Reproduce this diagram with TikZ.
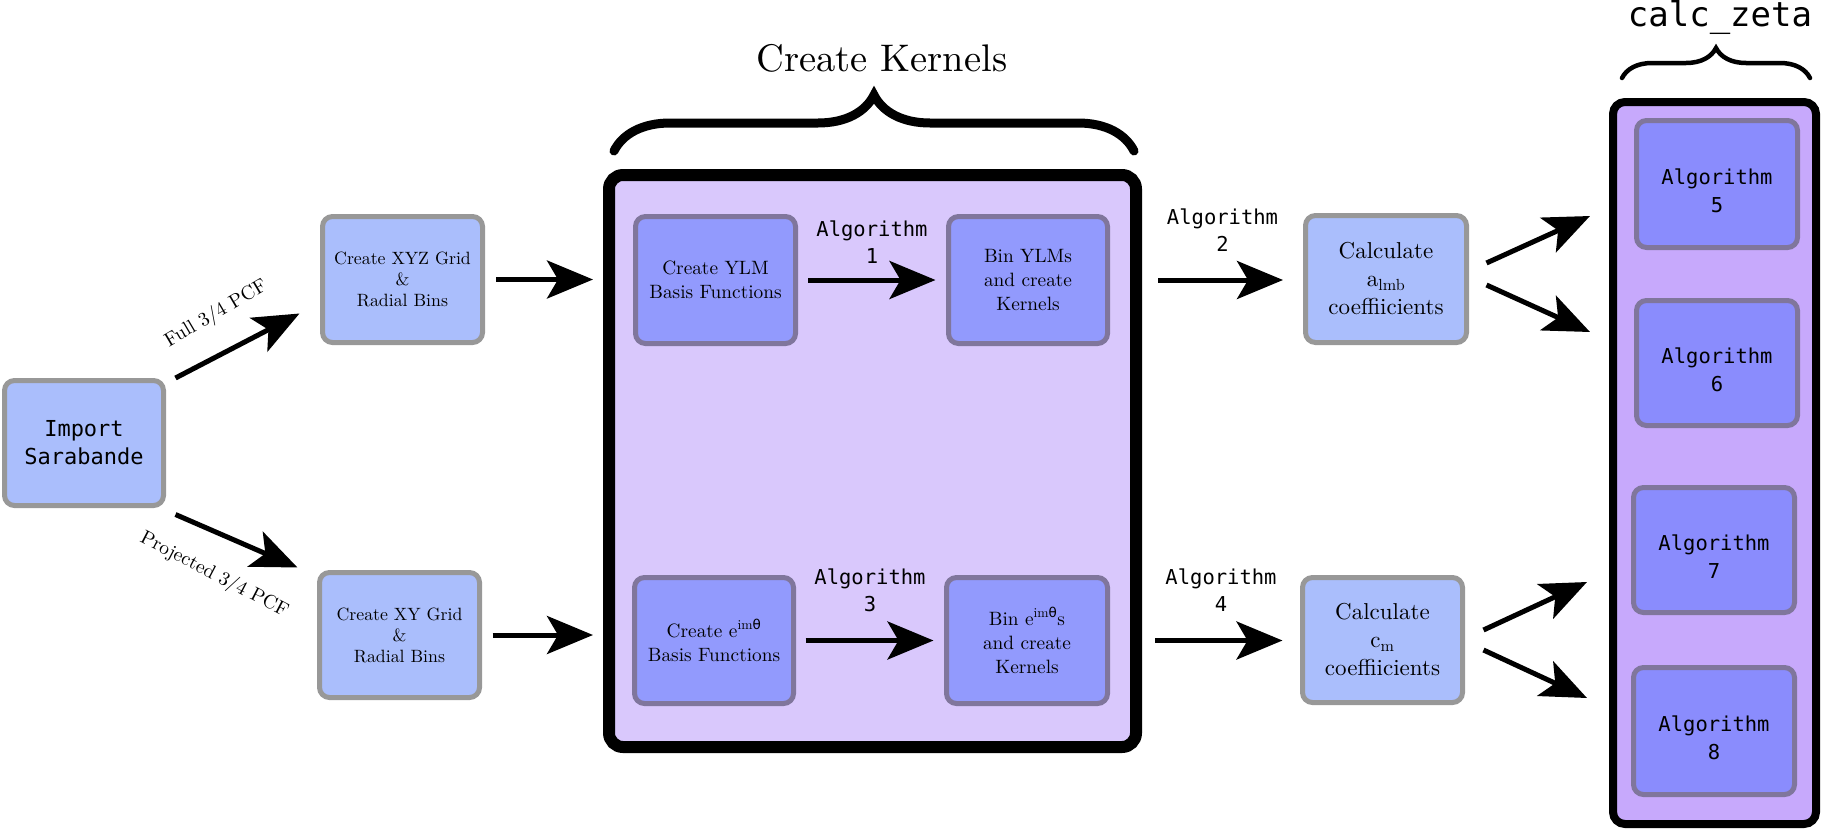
\documentclass[tikz,border=0pt]{standalone}
\usepackage{fontspec}
\setmainfont{lmroman10-regular}[Extension=.otf]
\newfontfamily\monof{DejaVu Sans Mono}
\newfontfamily\thetaf{DejaVu Sans}
\usetikzlibrary{arrows.meta,decorations.pathreplacing,calc}
\definecolor{lblue}{HTML}{AABEFC}
\definecolor{gborder}{HTML}{989898}
\definecolor{iblue}{HTML}{929AFD}
\definecolor{iborder}{HTML}{80769C}
\definecolor{kfill}{HTML}{D9C8FC}
\definecolor{zfill}{HTML}{C7A9FC}
\definecolor{ablue}{HTML}{8A8CFD}
\tikzset{
  lbox/.style={draw=gborder, line width=5pt, fill=lblue, rounded corners=10pt, align=center, inner sep=0pt},
  ibox/.style={draw=iborder, line width=5pt, fill=iblue, rounded corners=10pt, align=center, inner sep=0pt},
  abox/.style={draw=iborder, line width=5pt, fill=ablue, rounded corners=10pt, align=center, inner sep=0pt,
    minimum width=161pt, minimum height=127pt, font=\monof\fontsize{20.5}{28}\selectfont},
  arr/.style={line width=5pt, -{Stealth[length=46pt,width=38pt,inset=11pt]}},
  grid/.style={font=\fontsize{17.8}{21}\selectfont},
  mid/.style={font=\fontsize{19.3}{24}\selectfont},
  calcf/.style={font=\fontsize{23}{28}\selectfont},
  alglab/.style={inner sep=0pt, align=center, font=\monof\fontsize{20.5}{27}\selectfont},
  edgelab/.style={inner sep=0pt, font=\fontsize{19.5}{23}\selectfont},
  bigbox/.style={draw=black, align=center}
}
\newcommand{\algtop}{\rule{0pt}{29pt}}
\newcommand{\eim}{e\textsuperscript{im{\thetaf θ}}}
\begin{document}
\begin{tikzpicture}[x=1pt,y=-1pt]
\useasboundingbox (0,0) rectangle (1830,830);
% big containers
\node[bigbox, line width=12pt, fill=kfill, rounded corners=14pt, minimum width=527pt, minimum height=572pt] (kern) at (872.5,461) {};
\node[bigbox, line width=8pt, fill=zfill, rounded corners=12pt, minimum width=203pt, minimum height=722pt] (zeta) at (1714.5,463) {};
% titles and braces
\node[font=\fontsize{38.5}{46}\selectfont] (kt) at (882,58) {Create Kernels};
\coordinate (kb1) at (614,151);
\coordinate (kb2) at (1134,151);
\draw[line width=9pt, line cap=round, decorate, decoration={brace, amplitude=56pt}] (kb1) -- (kb2);
\node[font=\monof\fontsize{34}{40}\selectfont] (zt) at (1720,18) {calc\_zeta};
\coordinate (zb1) at (1622,78);
\coordinate (zb2) at (1810,78);
\draw[line width=4.5pt, line cap=round, decorate, decoration={brace, amplitude=30pt}] (zb1) -- (zb2);
% left boxes
\node[lbox, minimum width=159pt, minimum height=125pt, font=\monof\fontsize{22}{28}\selectfont] (imp) at (84,443) {Import\\Sarabande};
\node[lbox, grid, minimum width=160pt, minimum height=126pt] (xyz) at (402.5,279.5) {Create XYZ Grid\\\&\\Radial Bins};
\node[lbox, grid, minimum width=160pt, minimum height=125pt] (xy) at (399.5,635) {Create XY Grid\\\&\\Radial Bins};
% inner kernel boxes
\node[ibox, mid, minimum width=160pt, minimum height=127pt] (ylm) at (715.5,280) {Create YLM\\Basis Functions};
\node[ibox, mid, minimum width=159pt, minimum height=127pt] (binY) at (1028,280) {Bin YLMs\\and create\\Kernels};
\node[ibox, mid, minimum width=159pt, minimum height=126pt] (eim) at (714,640.5) {Create \eim\\Basis Functions};
\node[ibox, mid, minimum width=161pt, minimum height=126pt] (binE) at (1027,640.5) {Bin \eim s\\and create\\Kernels};
% calculate boxes
\node[lbox, calcf, minimum width=161pt, minimum height=127pt] (calcA) at (1386,279) {Calculate\\a\textsubscript{lmb}\\coeffiicients};
\node[lbox, calcf, minimum width=160pt, minimum height=125pt] (calcC) at (1382.5,640) {Calculate\\c\textsubscript{m}\\coeffiicients};
% algorithm boxes
\node[abox] (a5) at (1717,184) {\algtop Algorithm\\5};
\node[abox, minimum height=125pt] (a6) at (1717,363) {\algtop Algorithm\\6};
\node[abox, minimum height=125pt] (a7) at (1714,550) {\algtop Algorithm\\7};
\node[abox] (a8) at (1714,731) {\algtop Algorithm\\8};
% connectors
\draw[arr] ([xshift=9.5pt]imp.north east) -- ([shift={(-20.5,-31.5)}]xyz.south west)
  node[edgelab, pos=0.475, sloped, above=26pt, rotate=3] {Full 3/4 PCF};
\draw[arr] ([shift={(9.5,6.5)}]imp.south east) -- ([shift={(-19.5,-2.5)}]xy.north west)
  node[edgelab, pos=0.455, sloped, below=28pt, rotate=-4] {Projected 3/4 PCF};
\draw[arr, shorten <=11pt, shorten >=10pt] (xyz.east) -- (kern.west |- xyz.east);
\draw[arr, shorten <=10.5pt, shorten >=10pt] (xy.east) -- (kern.west |- xy.east);
\draw[arr, shorten <=10pt, shorten >=10.5pt] (ylm.east) -- (binY.west)
  node[alglab, midway, above=14pt] {Algorithm\\1};
\draw[arr, shorten <=9.5pt, shorten >=10.5pt] (eim.east) -- (binE.west)
  node[alglab, midway, above=26pt] {Algorithm\\3};
\draw[arr, shorten <=16pt, shorten >=20pt] (kern.east |- binY.east) -- (calcA.west |- binY.east)
  node[alglab, midway, above=26pt] {Algorithm\\2};
\draw[arr, shorten <=13pt, shorten >=17.5pt] (kern.east |- binE.east) -- (calcC.west |- binE.east)
  node[alglab, midway, above=27pt] {Algorithm\\4};
\coordinate (t5) at (1590,216);
\coordinate (t6) at (1590,332);
\coordinate (t7) at (1587,582);
\coordinate (t8) at (1587,698);
\draw[arr] ([shift={(17.5,-16)}]calcA.east) -- (t5);
\draw[arr] ([shift={(17.5,6)}]calcA.east) -- (t6);
\draw[arr] ([shift={(18.5,-10)}]calcC.east) -- (t7);
\draw[arr] ([shift={(18.5,10)}]calcC.east) -- (t8);
\end{tikzpicture}
\end{document}
